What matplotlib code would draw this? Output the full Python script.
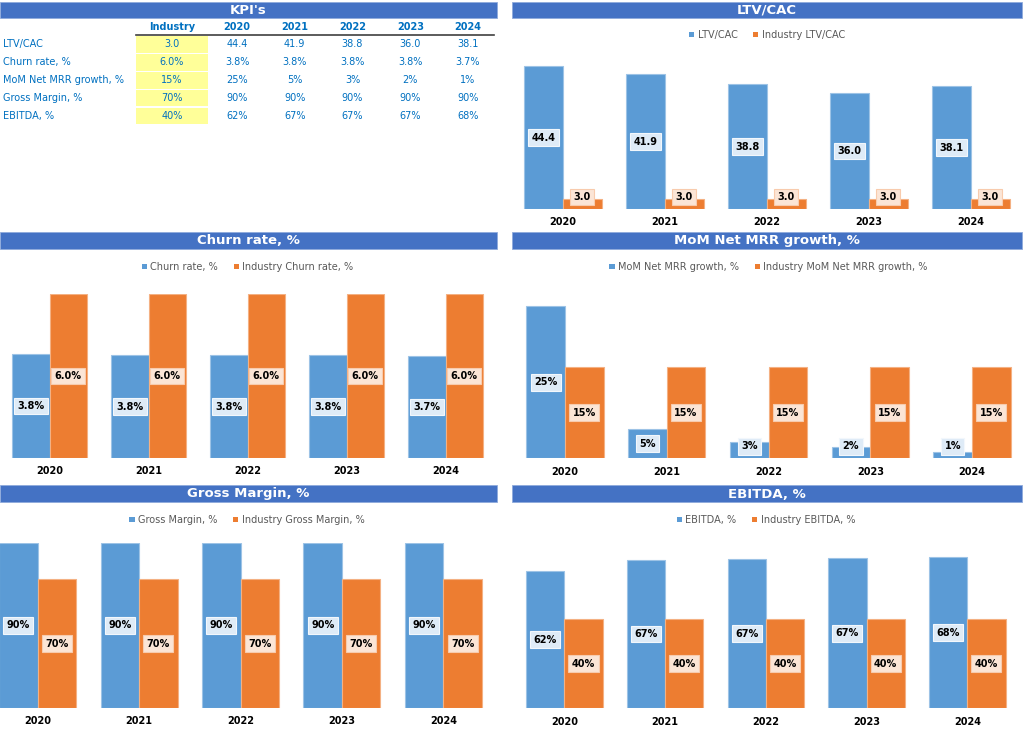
import matplotlib
matplotlib.use("Agg")
import matplotlib.pyplot as plt
import numpy as np
from matplotlib.patches import Rectangle, Patch
from matplotlib.lines import Line2D

years = ["2020", "2021", "2022", "2023", "2024"]
ltv_cac = [44.4, 41.9, 38.8, 36.0, 38.1]
ltv_cac_ind = 3.0
churn = [3.80, 3.76, 3.76, 3.76, 3.72]
churn_ind = 6.0
mom = [25, 4.8, 2.7, 1.9, 1.1]
mom_ind = 15
gross = [90, 90, 90, 90, 90]
gross_ind = 70
ebitda = [61.8, 66.7, 67.2, 67.4, 68.0]
ebitda_ind = 40

kpi_names = ["LTV/CAC", "Churn rate, %", "MoM Net MRR growth, %", "Gross Margin, %", "EBITDA, %"]

BLUE = "#5B9BD5"
ORANGE = "#ED7D31"
HEAD = "#4472C4"
TXT = "#0070C0"

W, H = 1024, 737
fig = plt.figure(figsize=(W / 100, H / 100), dpi=100)
plt.rcParams["font.family"] = ["DejaVu Sans"]


def fx(x):
    return x / W


def fy(y):
    return 1 - y / H


def header(x0, x1, y0, y1, text):
    fig.add_artist(Rectangle((fx(x0), fy(y1)), (x1 - x0) / W, (y1 - y0) / H,
                             transform=fig.transFigure, facecolor=HEAD,
                             edgecolor="#8FAADC", linewidth=0.6))
    fig.text(fx((x0 + x1) / 2), fy((y0 + y1) / 2 + 0.5), text, ha="center", va="center",
             color="white", fontsize=9.5, fontweight="bold")


def bar_chart(x0, x1, y_top, y_base, values, ind, ymax, fmt, name, legend_y, xlim):
    ax = fig.add_axes([fx(x0), fy(y_base), (x1 - x0) / W, (y_base - y_top) / H])
    ax.set_facecolor("none")
    idx = np.arange(len(years))
    w = 0.38
    ind_vals = [ind] * len(years)
    ax.bar(idx - w / 2, values, w, color=BLUE, edgecolor="#9DC3E6", linewidth=0.8)
    ax.bar(idx + w / 2, ind_vals, w, color=ORANGE, edgecolor="#F4B183", linewidth=0.8)
    ax.set_xlim(*xlim)
    ax.set_ylim(0, ymax)
    for s in ax.spines.values():
        s.set_visible(False)
    ax.set_yticks([])
    ax.set_xticks(idx, years)
    ax.tick_params(axis="x", length=0, pad=6, labelsize=7)
    for t in ax.get_xticklabels():
        t.set_fontweight("bold")

    px_per_unit = (y_base - y_top) / ymax
    min_c = 12 / px_per_unit
    for i in idx:
        for xpos, v, face, edge in [(i - w / 2, values[i], "#DEEBF7", "#F2F7FC"),
                                    (i + w / 2, ind_vals[i], "#FBE5D6", "#F8CBAD")]:
            ax.text(xpos, max(v / 2, min_c), fmt.format(v), ha="center", va="center",
                    fontsize=7, fontweight="bold", color="black",
                    bbox=dict(boxstyle="square,pad=0.35", facecolor=face,
                              edgecolor=edge, linewidth=0.8))

    handles = [Patch(facecolor=BLUE, linewidth=0, label=name),
               Patch(facecolor=ORANGE, linewidth=0, label="Industry " + name)]
    ax.legend(handles=handles, loc="center", bbox_to_anchor=(fx((x0 + x1) / 2), fy(legend_y)),
              bbox_transform=fig.transFigure, ncol=2, frameon=False, fontsize=7,
              handlelength=0.55, handleheight=0.55, handletextpad=0.35,
              columnspacing=1.6, labelcolor="#595959")
    return ax


# KPI table
header(0, 497, 2, 17.5, "KPI's")
col_x = [172, 237, 294.75, 352.5, 410.25, 468]
row_y = [44.3 + 17.9 * i for i in range(5)]
fig.text(fx(col_x[0]), fy(26.7), "Industry", ha="center", va="center",
         fontsize=7, fontweight="bold", color=TXT)
for cx, yr in zip(col_x[1:], years):
    fig.text(fx(cx), fy(26.7), yr, ha="center", va="center",
             fontsize=7, fontweight="bold", color=TXT)
fig.add_artist(Line2D([fx(136), fx(494)], [fy(34.5), fy(34.5)], transform=fig.transFigure,
                      color="#404040", linewidth=1.2))

series = [ltv_cac, churn, mom, gross, ebitda]
inds = [ltv_cac_ind, churn_ind, mom_ind, gross_ind, ebitda_ind]
fmts = ["{:.1f}", "{:.1f}%", "{:.0f}%", "{:.0f}%", "{:.0f}%"]
for ry, name, vals, iv, f in zip(row_y, kpi_names, series, inds, fmts):
    fig.add_artist(Rectangle((fx(136), fy(ry + 8.4)), (207.7 - 136) / W, 16.8 / H,
                             transform=fig.transFigure, facecolor="#FFFF99", edgecolor="none"))
    fig.text(fx(3), fy(ry), name, ha="left", va="center", fontsize=7, color=TXT)
    fig.text(fx(col_x[0]), fy(ry), f.format(iv), ha="center", va="center", fontsize=7, color=TXT)
    for cx, v in zip(col_x[1:], vals):
        fig.text(fx(cx), fy(ry), f.format(v), ha="center", va="center", fontsize=7, color=TXT)

# charts
header(512, 1022, 2, 17.5, "LTV/CAC")
bar_chart(512, 1022, 48, 209, ltv_cac, ltv_cac_ind, 50, "{:.1f}", "LTV/CAC", 35, (-0.5, 4.5))

header(0, 497, 232, 248.5, "Churn rate, %")
bar_chart(0, 495, 294.3, 457.7, churn, churn_ind, 6.0, "{:.1f}%", "Churn rate, %", 267, (-0.5, 4.5))

header(512, 1022, 232, 249, "MoM Net MRR growth, %")
bar_chart(514, 1023, 275.6, 458.3, mom, mom_ind, 30, "{:.0f}%", "MoM Net MRR growth, %", 267, (-0.5, 4.5))

header(0, 497, 485, 502, "Gross Margin, %")
bar_chart(0, 494, 542.7, 707.7, gross, gross_ind, 90, "{:.0f}%", "Gross Margin, %", 520, (-0.372, 4.5))

header(512, 1022, 485, 502, "EBITDA, %")
bar_chart(514, 1017.7, 530.3, 708.3, ebitda, ebitda_ind, 80, "{:.0f}%", "EBITDA, %", 520, (-0.5, 4.5))

fig.savefig("out.png", dpi=100)
